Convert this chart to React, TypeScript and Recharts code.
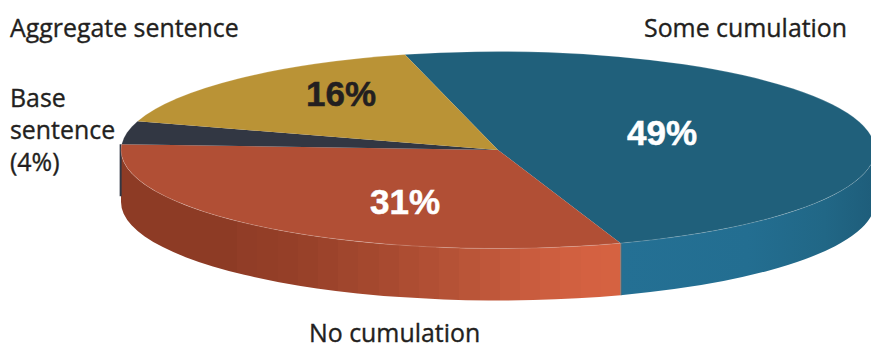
import { PieChart, Pie, Cell } from 'recharts';

const categories = ['Some cumulation', 'No cumulation', 'Base sentence', 'Aggregate sentence'];
// the printed labels are these rounded
const shares = [48.7, 31.2, 3.8, 16.3];

const TOP_COLORS = ['#20607b', '#b14f35', '#323743', '#ba9336'];
const WALL_COLORS = ['url(#wallBlue)', 'url(#wallRed)', '#323743', '#ba9336'];
const SHARE_COLORS = ['#ffffff', '#ffffff', 'none', '#231f20'];
const SHARE_SPOTS = [[662, 145], [405, 214], [0, 0], [341, 106]];

// the red wall is drawn in visible steps in the reference
const RED_BANDS = [
  '#8d3b25', '#913d27', '#933e27', '#953f28', '#984129', '#9c432b', '#a0462d', '#a4482e', '#a84a30', '#ad4d32',
  '#b14f34', '#b55236', '#ba5538', '#bf573a', '#c45a3c', '#c95c3e', '#cd5e3f', '#d16040', '#d46141', '#d56241',
];
const RED_FROM = 217;
const RED_TO = 621;

const CX = 498;
const CY = 150;
const RX = 377;
const RY = 98.5;
const DEPTH = 52;
const START = 104.3;
const FONT = '"Open Sans", Arial, sans-serif';
const BOLD_FONT = '"Liberation Sans", Arial, sans-serif';

const data = categories.map((name, i) => ({ name, value: shares[i] }));

const px = (a: number) => CX + RX * Math.cos((a * Math.PI) / 180);
const py = (a: number) => CY - RY * Math.sin((a * Math.PI) / 180);

// Recharts gives the angles, the slice is squashed into an ellipse here
function TopSlice(props: any) {
  const { startAngle: a, endAngle: b, fill } = props;
  const large = Math.abs(a - b) > 180 ? 1 : 0;
  const sweep = a > b ? 1 : 0;
  return (
    <g>
      <path
        d={`M${CX},${CY} L${px(a)},${py(a)} A${RX},${RY} 0 ${large} ${sweep} ${px(b)},${py(b)} Z`}
        fill={fill}
      />
      <path
        d={`M${px(a)},${py(a)} A${RX},${RY} 0 ${large} ${sweep} ${px(b)},${py(b)}`}
        fill="none"
        stroke="#ffffff"
        strokeOpacity={0.25}
        strokeWidth={0.7}
      />
    </g>
  );
}

function WallSlice(props: any) {
  const { startAngle, endAngle, fill } = props;
  const a = Math.min(startAngle, 0);
  const b = Math.max(endAngle, -180);
  if (a <= b) {
    // nothing of it faces us, only the cut edge on the far left
    if (startAngle <= -180 && startAngle > -190) {
      return (
        <path
          d={`M${px(startAngle) - 1},${py(startAngle)} V${py(startAngle) + DEPTH}`}
          stroke={fill}
          strokeWidth={2}
          fill="none"
        />
      );
    }
    return <g />;
  }
  return (
    <g>
      <path
        d={`M${px(a)},${py(a)} A${RX},${RY} 0 0 1 ${px(b)},${py(b)} V${py(b) + DEPTH} A${RX},${RY} 0 0 0 ${px(a)},${py(a) + DEPTH} Z`}
        fill={fill}
      />
      {a < 0 && (
        <path d={`M${px(a) + 0.5},${py(a)} v${DEPTH}`} stroke="#5d6a70" strokeWidth={1} fill="none" />
      )}
    </g>
  );
}

function ShareLabel(props: any) {
  const { index, value } = props;
  if (SHARE_COLORS[index] === 'none') return <g />;
  return (
    <text
      x={SHARE_SPOTS[index][0]}
      y={SHARE_SPOTS[index][1]}
      textAnchor="middle"
      stroke={SHARE_COLORS[index]}
      strokeWidth={0.5}
      style={{ fontFamily: BOLD_FONT, fontSize: 35, fontWeight: 700, fill: SHARE_COLORS[index] }}
    >
      {Math.round(value)}%
    </text>
  );
}

const labelStyle = { fontFamily: FONT, fontSize: 24.9, fontWeight: 500, fill: '#231f20', stroke: '#231f20', strokeWidth: 0.35 };

export default function App() {
  const bandWidth = (RED_TO - RED_FROM) / RED_BANDS.length;
  return (
    <div style={{ position: 'absolute', left: 0, top: 0, width: 871, height: 343, background: '#fff' }}>
      <PieChart width={871} height={343} margin={{ top: 0, right: 0, bottom: 0, left: 0 }}>
        <defs>
          <linearGradient id="wallBlue" gradientUnits="userSpaceOnUse" x1={621} y1={0} x2={875} y2={0}>
            <stop offset="0" stopColor="#247094" />
            <stop offset="0.5" stopColor="#236e91" />
            <stop offset="0.8" stopColor="#216786" />
            <stop offset="1" stopColor="#1e5d7a" />
          </linearGradient>
          <linearGradient id="wallRed" gradientUnits="userSpaceOnUse" x1={RED_FROM} y1={0} x2={RED_TO} y2={0}>
            {RED_BANDS.flatMap((c, i) => [
              <stop key={`${i}a`} offset={(i * bandWidth) / (RED_TO - RED_FROM)} stopColor={c} />,
              <stop key={`${i}b`} offset={((i + 1) * bandWidth) / (RED_TO - RED_FROM)} stopColor={c} />,
            ])}
          </linearGradient>
        </defs>
        <Pie
          data={data}
          dataKey="value"
          nameKey="name"
          cx={CX}
          cy={CY}
          outerRadius={RX}
          startAngle={START}
          endAngle={START - 360}
          paddingAngle={0}
          isAnimationActive={false}
          shape={WallSlice}
        >
          {data.map((d, i) => (
            <Cell key={d.name} fill={WALL_COLORS[i]} />
          ))}
        </Pie>
        <Pie
          data={data}
          dataKey="value"
          nameKey="name"
          cx={CX}
          cy={CY}
          outerRadius={RX}
          startAngle={START}
          endAngle={START - 360}
          paddingAngle={0}
          isAnimationActive={false}
          shape={TopSlice}
          label={ShareLabel}
          labelLine={false}
        >
          {data.map((d, i) => (
            <Cell key={d.name} fill={TOP_COLORS[i]} />
          ))}
        </Pie>
        <text x={10} y={37} style={labelStyle}>Aggregate sentence</text>
        <text x={644} y={37} style={labelStyle}>Some cumulation</text>
        <text x={10} y={107} style={labelStyle}>Base</text>
        <text x={10} y={139} style={labelStyle}>sentence</text>
        <text x={10} y={171} style={labelStyle}>(4%)</text>
        <text x={309} y={342} style={labelStyle}>No cumulation</text>
      </PieChart>
    </div>
  );
}
